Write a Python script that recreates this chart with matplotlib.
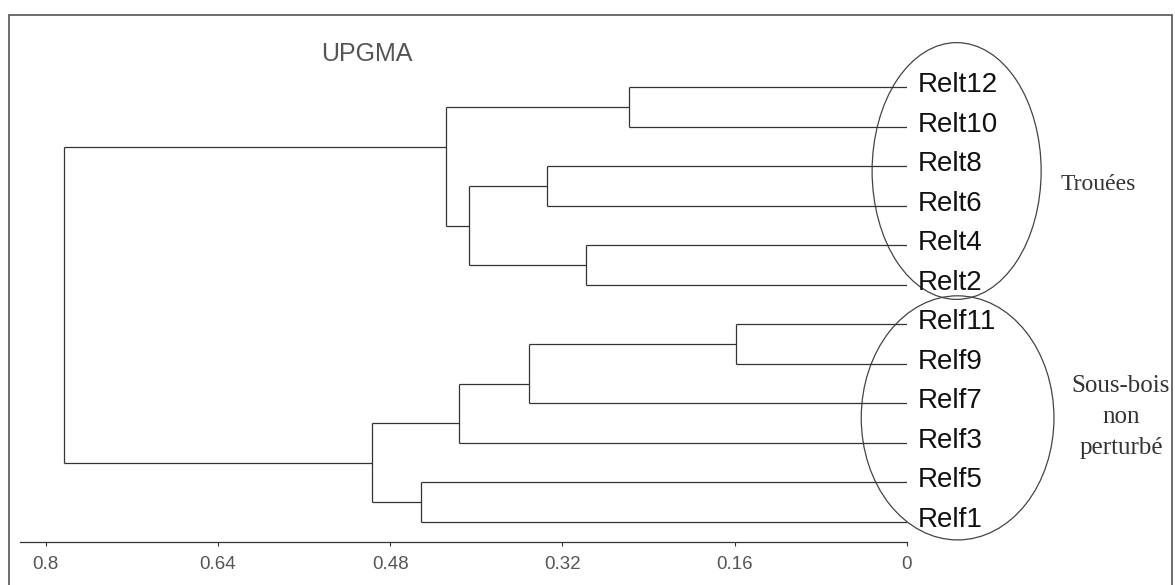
import matplotlib
matplotlib.use('Agg')
import matplotlib.pyplot as plt
from matplotlib.patches import Ellipse, Rectangle

# UPGMA dendrogram of the 12 plots (distances)
leaf_names = ['Relt12', 'Relt10', 'Relt8', 'Relt6', 'Relt4', 'Relt2',
              'Relf11', 'Relf9', 'Relf7', 'Relf3', 'Relf5', 'Relf1']

# merges, scipy-linkage style: index < 12 is a leaf, 12+k is merge k
join_a = [0, 2, 4, 13, 12, 6, 17, 18, 10, 19, 16]
join_b = [1, 3, 5, 14, 15, 7, 8, 9, 11, 20, 21]
join_dist = [0.258, 0.334, 0.298, 0.407, 0.428, 0.159, 0.351, 0.416, 0.451, 0.497, 0.783]

tick_vals = [0.8, 0.64, 0.48, 0.32, 0.16, 0]
tick_labels = ['0.8', '0.64', '0.48', '0.32', '0.16', '0']

n = len(leaf_names)
line_col = '#333333'

fig = plt.figure(figsize=(11.75, 5.85), dpi=100)
ax = fig.add_axes([20 / 1175, 1 - 542.3 / 585, 887 / 1175, (542.3 - 60) / 585])
ax.set_xlim(0.8 + 25.7 / 1077, 0)
ax.set_ylim(11.52, -0.69)

# node positions: leaves at their row, joints as the original program drew them
node_y = {i: float(i) for i in range(n)}
node_x = {i: 0.0 for i in range(n)}
for k, (a, b, d) in enumerate(zip(join_a, join_b, join_dist)):
    if a < n and b < n:
        y = (node_y[a] + node_y[b]) / 2
    else:
        # the program puts the joint one row below the upper branch
        y = node_y[a] + 1
    for c in (a, b):
        ax.plot([node_x[c], d], [node_y[c], node_y[c]], color=line_col, lw=0.9,
                solid_capstyle='butt')
    ax.plot([d, d], [node_y[a], node_y[b]], color=line_col, lw=0.9,
            solid_capstyle='butt')
    node_y[n + k] = y
    node_x[n + k] = d

# leaf labels
for i, name in enumerate(leaf_names):
    ax.annotate(name, (0, i), xytext=(11, -5), textcoords='offset pixels',
                ha='left', va='baseline', fontsize=20, family='Liberation Sans',
                color='#111111', annotation_clip=False)

# group ellipses
ax.add_patch(Ellipse((-0.0461, 2.12), 0.157, 6.5, fill=False, ec='#444444',
                     lw=0.9, clip_on=False))
ax.add_patch(Ellipse((-0.047, 8.37), 0.179, 6.18, fill=False, ec='#444444',
                     lw=0.9, clip_on=False))

# axis
for s in ['top', 'left', 'right']:
    ax.spines[s].set_visible(False)
ax.spines['bottom'].set_color(line_col)
ax.spines['bottom'].set_linewidth(0.9)
ax.set_yticks([])
ax.set_xticks(tick_vals)
ax.set_xticklabels(tick_labels)
ax.tick_params(axis='x', direction='out', length=3, width=0.8, color=line_col,
               labelsize=13.5, labelcolor='#555555', pad=7)
for lab in ax.get_xticklabels():
    lab.set_family('Liberation Sans')

# texts outside the tree
fig.text(367 / 1175, 1 - 54 / 585, 'UPGMA', ha='center', va='center',
         fontsize=18, family='Liberation Sans', color='#555555')
fig.text(1098 / 1175, 1 - 185 / 585, 'Trouées', ha='center', va='center',
         fontsize=17, family='Liberation Serif', color='#333333')
fig.text(1121 / 1175, 1 - 417 / 585, 'Sous-bois\nnon\nperturbé', ha='center',
         va='center', fontsize=18, family='Liberation Serif', color='#333333',
         multialignment='center', linespacing=1.55)

# outer frame of the scanned figure
fig.patches.append(Rectangle((9 / 1175, -0.02), 1163 / 1175, 0.02 + 1 - 15 / 585,
                             transform=fig.transFigure, fill=False,
                             ec='#555555', lw=1.2))

fig.savefig('out.png', dpi=100)
